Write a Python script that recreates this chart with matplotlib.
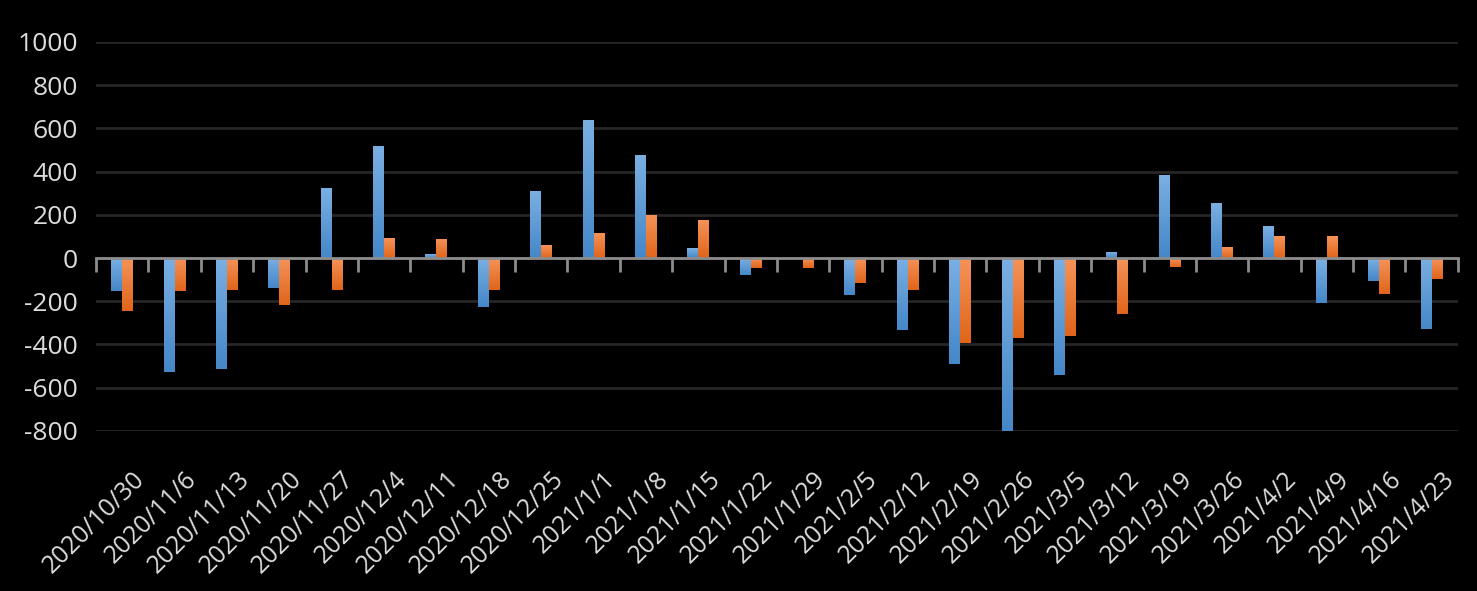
import numpy as np
import matplotlib.pyplot as plt
import matplotlib.transforms as mtransforms
from matplotlib.colors import LinearSegmentedColormap

dates = ['2020/10/30', '2020/11/6', '2020/11/13', '2020/11/20', '2020/11/27',
         '2020/12/4', '2020/12/11', '2020/12/18', '2020/12/25', '2021/1/1',
         '2021/1/8', '2021/1/15', '2021/1/22', '2021/1/29', '2021/2/5',
         '2021/2/12', '2021/2/19', '2021/2/26', '2021/3/5', '2021/3/12',
         '2021/3/19', '2021/3/26', '2021/4/2', '2021/4/9', '2021/4/16',
         '2021/4/23']
series_a = [-155, -528, -514, -141, 322, 520, 18, -229, 308, 640,
            478, 45, -78, -3, -170, -333, -490, -800, -542, 27,
            382, 253, 147, -206, -105, -330]
series_b = [-247, -155, -146, -219, -146, 92, 88, -146, 58, 118,
            200, 178, -47, -47, -115, -150, -395, -372, -363, -257,
            -40, 50, 100, 100, -165, -95]
yticks = [-800, -600, -400, -200, 0, 200, 400, 600, 800, 1000]

blue_cmap = LinearSegmentedColormap.from_list('b', ['#4587c8', '#7aafe2'])
orange_cmap = LinearSegmentedColormap.from_list('o', ['#e0651a', '#f5935a'])

fig = plt.figure(figsize=(14.77, 5.91), dpi=100, facecolor='black')
ax = fig.add_axes([0.065, 0.271, 0.922, 0.658], facecolor='black')

x = np.arange(len(dates))
w = 0.21
grad = np.linspace(0, 1, 64).reshape(-1, 1)


def gradient_bars(xpos, vals, cmap):
    bars = ax.bar(xpos, vals, w, color=cmap(0.5), zorder=2)
    for b in bars:
        x0, y0 = b.get_x(), b.get_y()
        x1, y1 = x0 + b.get_width(), y0 + b.get_height()
        lo, hi = min(y0, y1), max(y0, y1)
        im = ax.imshow(grad, cmap=cmap, origin='lower', aspect='auto',
                       extent=[x0, x1, lo, hi], zorder=3)
        im.set_clip_path(b)
    return bars


gradient_bars(x - w / 2, series_a, blue_cmap)
gradient_bars(x + w / 2, series_b, orange_cmap)

ax.set_xlim(-0.5, len(dates) - 0.5)
ax.set_ylim(-800, 1000)
ax.set_yticks(yticks)
ax.set_yticklabels([str(v) for v in yticks])
ax.grid(axis='y', color='#262626', linewidth=2, zorder=0)
ax.set_axisbelow(True)
for s in ax.spines.values():
    s.set_visible(False)

ax.tick_params(axis='y', length=0, pad=13, labelsize=19, labelcolor='#dcdcdc')
ax.set_xticks(x)
ax.set_xticklabels(dates, rotation=45, ha='right', rotation_mode='anchor',
                   fontsize=18, color='#dcdcdc')
ax.tick_params(axis='x', length=0, pad=26)
shift = mtransforms.ScaledTranslation(10 / 100, 0, fig.dpi_scale_trans)
for lab in ax.get_xticklabels():
    lab.set_fontfamily(['Open Sans', 'DejaVu Sans'])
    lab.set_transform(lab.get_transform() + shift)
for lab in ax.get_yticklabels():
    lab.set_fontfamily(['Open Sans', 'DejaVu Sans'])

# zero axis line with category boundary ticks
sec = ax.secondary_xaxis(0, transform=ax.transData)
sec.spines['bottom'].set_color('#8c8c8c')
sec.spines['bottom'].set_linewidth(2)
sec.set_xticks(np.arange(len(dates) + 1) - 0.5)
sec.tick_params(axis='x', length=10, width=2, color='#8c8c8c', labelbottom=False)
sec.set_zorder(5)

fig.savefig('out.png', dpi=100, facecolor='black')
